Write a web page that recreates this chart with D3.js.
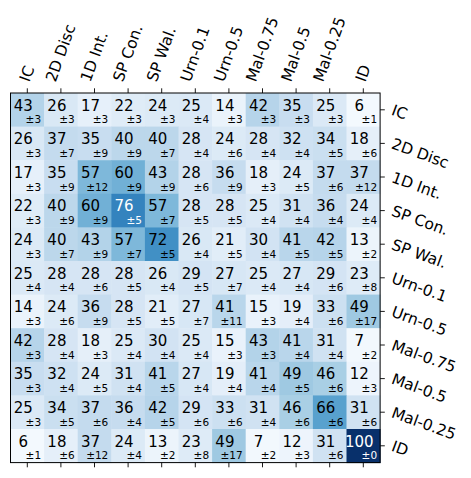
<!DOCTYPE html>
<html>
<head>
<meta charset="utf-8">
<script src="https://cdn.jsdelivr.net/npm/d3@7"></script>
<style>
  body { margin: 0; background: #fff; }
  svg text { font-family: "DejaVu Sans", sans-serif; }
</style>
</head>
<body>
<div id="chart"></div>
<script>
// DATA
var labels = ['IC', '2D Disc', '1D Int.', 'SP Con.', 'SP Wal.', 'Urn-0.1', 'Urn-0.5', 'Mal-0.75', 'Mal-0.5', 'Mal-0.25', 'ID'];

// mean agreement (rows = y labels, cols = x labels)
var means = [
  [43, 26, 17, 22, 24, 25, 14, 42, 35, 25, 6],
  [26, 37, 35, 40, 40, 28, 24, 28, 32, 34, 18],
  [17, 35, 57, 60, 43, 28, 36, 18, 24, 37, 37],
  [22, 40, 60, 76, 57, 28, 28, 25, 31, 36, 24],
  [24, 40, 43, 57, 72, 26, 21, 30, 41, 42, 13],
  [25, 28, 28, 28, 26, 29, 27, 25, 27, 29, 23],
  [14, 24, 36, 28, 21, 27, 41, 15, 19, 33, 49],
  [42, 28, 18, 25, 30, 25, 15, 43, 41, 31, 7],
  [35, 32, 24, 31, 41, 27, 19, 41, 49, 46, 12],
  [25, 34, 37, 36, 42, 29, 33, 31, 46, 66, 31],
  [6, 18, 37, 24, 13, 23, 49, 7, 12, 31, 100]
];

// standard deviations
var stds = [
  [3, 3, 3, 3, 3, 4, 3, 3, 3, 3, 1],
  [3, 7, 9, 9, 7, 4, 6, 4, 4, 5, 6],
  [3, 9, 12, 9, 9, 6, 9, 3, 5, 6, 12],
  [3, 9, 9, 5, 7, 5, 5, 4, 4, 4, 4],
  [3, 7, 9, 7, 5, 4, 5, 4, 5, 5, 2],
  [4, 4, 6, 5, 4, 5, 7, 4, 4, 6, 8],
  [3, 6, 9, 5, 5, 7, 11, 3, 4, 6, 17],
  [3, 4, 3, 4, 4, 4, 3, 3, 4, 4, 2],
  [3, 4, 5, 4, 5, 4, 4, 4, 5, 6, 3],
  [3, 5, 6, 4, 5, 6, 6, 4, 6, 6, 6],
  [1, 6, 12, 4, 2, 8, 17, 2, 3, 6, 0]
];

var width = 471;
var height = 478;
var plotLeft = 10.5;
var plotTop = 93;
var plotSize = 369.6;

var svg = d3.select('#chart')
  .append('svg')
  .attr('width', width)
  .attr('height', height);

var x = d3.scaleBand()
  .domain(labels)
  .range([plotLeft, plotLeft + plotSize]);

var y = d3.scaleBand()
  .domain(labels)
  .range([plotTop, plotTop + plotSize]);

// Blues, a bit washed out in the low/mid range
var color = function(v) { return d3.interpolateBlues(Math.pow(v / 100, 1.4)); };

// flatten into cells
var cells = [];
for (var i = 0; i < labels.length; i++) {
  for (var j = 0; j < labels.length; j++) {
    cells.push({ row: labels[i], col: labels[j], mean: means[i][j], std: stds[i][j] });
  }
}

// HEATMAP CELLS
svg.append('g')
  .selectAll('rect')
  .data(cells)
  .enter()
  .append('rect')
  .attr('x', function(d) { return x(d.col); })
  .attr('y', function(d) { return y(d.row); })
  .attr('width', x.bandwidth() + 0.5)
  .attr('height', y.bandwidth() + 0.5)
  .attr('fill', function(d) { return color(d.mean); });

// CELL TEXT
var txt = svg.append('g');
txt.selectAll('.mean')
  .data(cells)
  .enter()
  .append('text')
  .attr('class', 'mean')
  .attr('x', function(d) { return x(d.col) + x.bandwidth() / 2 - 4; })
  .attr('y', function(d) { return y(d.row) + 17.6; })
  .attr('text-anchor', 'middle')
  .style('font-size', '15px')
  .attr('fill', function(d) { return d.mean > 75 ? '#fff' : '#000'; })
  .text(function(d) { return d.mean; });

txt.selectAll('.std')
  .data(cells)
  .enter()
  .append('text')
  .attr('class', 'std')
  .attr('x', function(d) { return x(d.col) + x.bandwidth() - 3; })
  .attr('y', function(d) { return y(d.row) + 30.3; })
  .attr('text-anchor', 'end')
  .style('font-size', '10.5px')
  .attr('fill', function(d) { return d.mean > 75 ? '#fff' : '#000'; })
  .text(function(d) { return '\u00b1' + d.std; });

// AXES
var topAxis = svg.append('g')
  .attr('transform', 'translate(0,' + plotTop + ')')
  .call(d3.axisTop(x).tickSize(4.7).tickSizeOuter(0));

var rightAxis = svg.append('g')
  .attr('transform', 'translate(' + (plotLeft + plotSize) + ',0)')
  .call(d3.axisRight(y).tickSize(4.7).tickSizeOuter(0));

var bottomAxis = svg.append('g')
  .attr('transform', 'translate(0,' + (plotTop + plotSize) + ')')
  .call(d3.axisBottom(x).tickSize(4.7).tickSizeOuter(0).tickFormat(''));

[topAxis, rightAxis, bottomAxis].forEach(function(a) {
  a.select('.domain').remove();
  a.attr('font-family', null).attr('font-size', null);
  a.selectAll('line').attr('stroke', '#000').attr('stroke-width', 0.9);
});

// top labels: rotated 70deg, bounding box centred on tick
topAxis.selectAll('text')
  .attr('x', 0).attr('y', 0).attr('dy', null)
  .style('font-size', '15.5px')
  .attr('fill', '#000')
  .attr('text-anchor', 'middle')
  .attr('dominant-baseline', 'central')
  .attr('transform', function() {
    var L = this.getComputedTextLength();
    var a = 70 * Math.PI / 180;
    var h = 11;
    var bh = L * Math.sin(a) + h * Math.cos(a);
    var cy = -10 - bh / 2;
    return 'translate(0,' + cy + ') rotate(-70)';
  });

// right labels: rotated 20deg around left-centre
rightAxis.selectAll('text')
  .attr('x', 0).attr('y', 0).attr('dy', null)
  .style('font-size', '15.5px')
  .attr('fill', '#000')
  .attr('text-anchor', 'start')
  .attr('dominant-baseline', 'central')
  .attr('transform', 'translate(12,0) rotate(20)');

// FRAME
svg.append('rect')
  .attr('x', plotLeft)
  .attr('y', plotTop)
  .attr('width', plotSize)
  .attr('height', plotSize)
  .attr('fill', 'none')
  .attr('stroke', '#000')
  .attr('stroke-width', 1);
</script>
</body>
</html>
